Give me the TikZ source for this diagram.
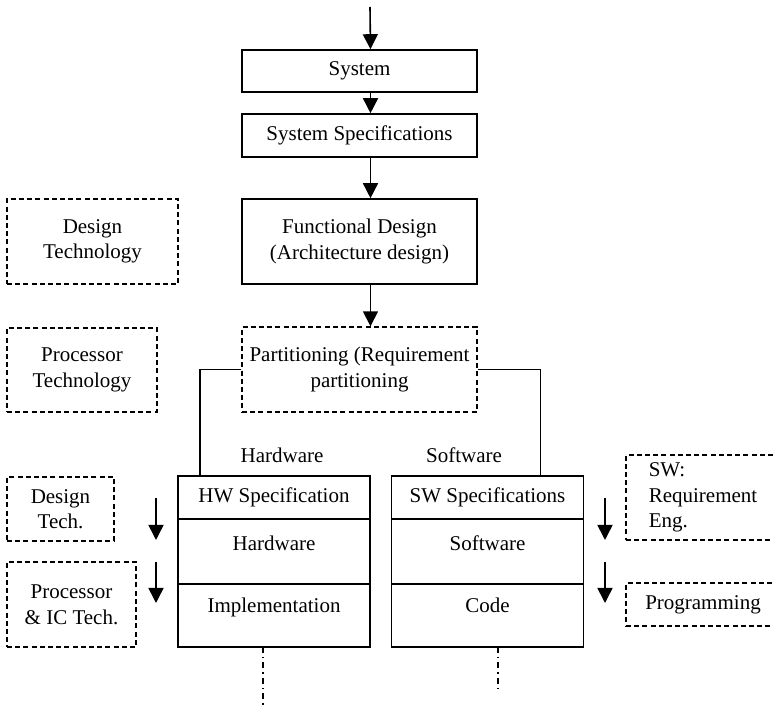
\documentclass[tikz,border=0pt]{standalone}
\usepackage{fontspec}
\setmainfont{Liberation Serif}
\usetikzlibrary{arrows.meta,positioning}

\tikzset{
  sbox/.style={draw, line width=0.8pt, minimum width=117.5pt, align=center},
  dbox/.style={draw, line width=0.7pt, dash pattern=on 2.5pt off 1.6pt, align=center},
  cell/.style={draw, line width=0.8pt, minimum width=96pt, inner sep=0pt, outer sep=0pt},
  celltxt/.style={inner sep=0pt, text height=7pt, text depth=2pt},
  arr/.style={line width=0.8pt, -{Triangle[width=7.5pt,length=7.5pt]}},
  dashdot/.style={line width=0.7pt, dash pattern=on 3pt off 2pt on 0.7pt off 2pt}
}

\begin{document}
\begin{tikzpicture}[x=0.5pt, y=-0.5pt, font=\fontsize{10.5}{12.8}\selectfont]
\useasboundingbox (0,0) rectangle (773,711);
\clip (0,0) rectangle (773,711);

% main flow
\coordinate (in) at (370,7);
\node[sbox, minimum height=21pt] (sys) at (359.5,71) {System};
\node[sbox, minimum height=21.5pt] (spec) at (359.5,135.5) {System Specifications};
\node[sbox, minimum height=42.5pt] (func) at (359.5,241.5) {Functional Design\\(Architecture design)};
\node[dbox, minimum width=117.5pt, minimum height=42.5pt] (part) at (359.5,369.5) {Partitioning (Requirement\\partitioning};

\draw[arr] (in) -- ([xshift=5.5pt]sys.north);
\draw[arr] ([xshift=5.5pt]sys.south) -- ([xshift=5.5pt]spec.north);
\draw[arr] ([xshift=5.5pt]spec.south) -- ([xshift=5.5pt]func.north);
\draw[arr] ([xshift=5.5pt]func.south) -- ([xshift=5.5pt]part.north);

% technologies on the left
\node[dbox, minimum width=85.5pt, minimum height=42.5pt] (destech) at (92.5,241.5) {Design\\Technology};
\node[dbox, minimum width=75pt, minimum height=42pt] (proctech) at (82,370) {Processor\\Technology};

% hardware stack
\node[cell, minimum height=21.5pt] (hwspec) at (274,497.5) {HW Specification};
\node[cell, minimum height=32.5pt, below=0pt of hwspec] (hwcell) {};
\node[cell, minimum height=31.5pt, below=0pt of hwcell] (hwimpl) {};
\node[celltxt, below=8.5pt of hwcell.north] (hwtxt) {Hardware};
\node[celltxt, below=7pt of hwimpl.north] (impltxt) {Implementation};
\node (hwlab) at (282,455) {Hardware};

% software stack
\node[cell, minimum height=21.5pt] (swspec) at (487.5,497.5) {SW Specifications};
\node[cell, minimum height=32.5pt, below=0pt of swspec] (swcell) {};
\node[cell, minimum height=31.5pt, below=0pt of swcell] (swcode) {};
\node[celltxt, below=8.5pt of swcell.north] (swtxt) {Software};
\node[celltxt, below=7pt of swcode.north] (codetxt) {Code};
\node (swlab) at (464,455) {Software};

\draw[line width=0.8pt] (part.west) -| ([xshift=11pt]hwspec.north west);
\draw[line width=0.8pt] (part.east) -| ([xshift=-21.5pt]swspec.north east);

% continuation
\coordinate (hwend) at (263,708);
\coordinate (swend) at (498,690);
\draw[dashdot] ([xshift=-5.5pt]hwimpl.south) -- (hwend);
\draw[dashdot] ([xshift=5.25pt]swcode.south) -- (swend);

% side boxes
\node[dbox, minimum width=53.5pt, minimum height=32pt] (dtech) at (60.5,509) {Design\\Tech.};
\node[dbox, minimum width=64.5pt, minimum height=42.5pt] (ictech) at (71.5,604.5) {Processor\\\& IC Tech.};
\node[dbox, align=left, minimum width=77pt, minimum height=42.5pt] (swreq) at (703,497.5) {SW:\\Requirement\\Eng.};
\node[dbox, minimum width=77pt, minimum height=21.5pt] (prog) at (703,604.5) {Programming};

% side arrows
\coordinate (la1) at (156,498); \coordinate (lb1) at (156,540);
\coordinate (la2) at (156,562); \coordinate (lb2) at (156,603);
\coordinate (ra1) at (605,498); \coordinate (rb1) at (605,540);
\coordinate (ra2) at (605,562); \coordinate (rb2) at (605,603);
\draw[arr] (la1) -- (lb1);
\draw[arr] (la2) -- (lb2);
\draw[arr] (ra1) -- (rb1);
\draw[arr] (ra2) -- (rb2);
\end{tikzpicture}
\end{document}
